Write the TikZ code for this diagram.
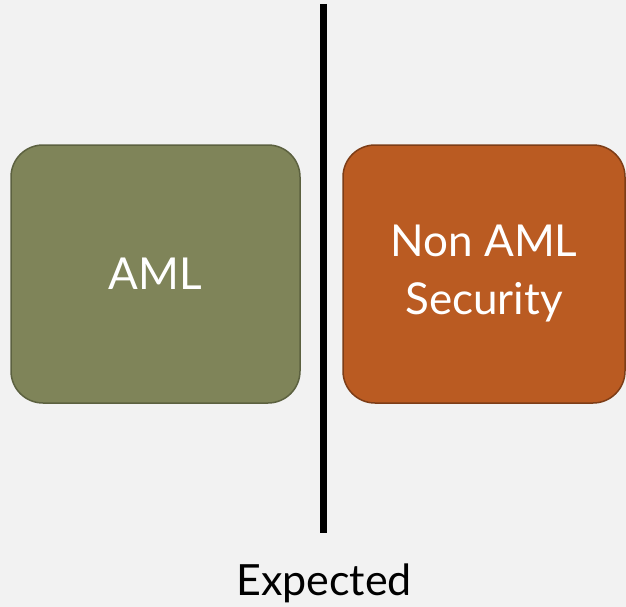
\documentclass[tikz,border=0pt]{standalone}
\usepackage{fontspec}
\setmainfont{Lato}
\definecolor{bg}{HTML}{F2F2F2}
\definecolor{olivefill}{HTML}{7F8459}
\definecolor{olivedraw}{HTML}{5C6140}
\definecolor{rustfill}{HTML}{BA5B22}
\definecolor{rustdraw}{HTML}{7D3D17}
\tikzset{
  card/.style={rounded corners=32pt, line width=1.5pt, text=white,
    font=\fontsize{44pt}{58pt}\selectfont, align=center, inner sep=0pt,
    minimum height=258pt},
}
\begin{document}
\begin{tikzpicture}[x=1pt,y=-1pt]
  \fill[bg] (0,0) rectangle (626,607);
  \useasboundingbox (0,0) rectangle (626,607);
  % two category cards
  \node[card, fill=olivefill, draw=olivedraw, minimum width=289pt] (aml) at (155.5,274) {AML};
  \node[card, fill=rustfill, draw=rustdraw, minimum width=282pt] (nonaml) at (484,274) {Non AML\\Security};
  % divider
  \coordinate (top) at (323.5,4);
  \coordinate (bot) at (323.5,533);
  \draw[line width=7pt] (top) -- (bot);
  % caption
  \node[anchor=base, inner sep=0pt, font=\fontsize{43pt}{50pt}\selectfont] (cap) at (324,595) {Expected};
\end{tikzpicture}
\end{document}
